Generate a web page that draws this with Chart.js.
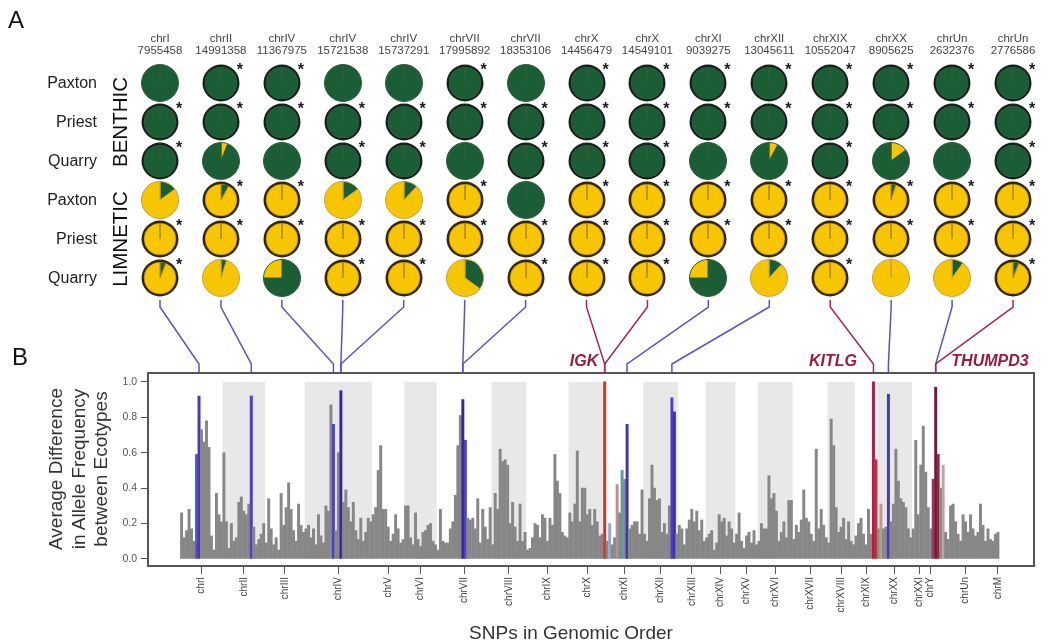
<!DOCTYPE html>
<html><head><meta charset="utf-8">
<script src="https://cdn.jsdelivr.net/npm/chart.js@4.4.1/dist/chart.umd.min.js"></script>
<style>
html,body{margin:0;padding:0;background:#fff;}
#wrap{position:relative;width:1050px;height:644px;overflow:hidden;font-family:"Liberation Sans",Arial,Helvetica,sans-serif;}
#main{position:absolute;left:0;top:0;}
.pie{position:absolute;}
.t{position:absolute;white-space:nowrap;line-height:1;}
</style></head>
<body><div id="wrap"><canvas id="main" width="1050" height="644"></canvas></div>
<script>
// ---------------- Panel B data ----------------
const chromNames = ['chrI','chrII','chrIII','chrIV','chrV','chrVI','chrVII','chrVIII','chrIX','chrX','chrXI','chrXII','chrXIII','chrXIV','chrXV','chrXVI','chrXVII','chrXVIII','chrXIX','chrXX','chrXXI','chrY','chrUn','chrM'];
const chromSnpCounts = [17,17,16,27,13,13,22,14,17,15,15,14,11,12,9,14,14,11,9,14,6,3,25,1];
const shadedChroms = ['chrII','chrIV','chrVI','chrVIII','chrX','chrXII','chrXIV','chrXVI','chrXVIII','chrXX'];
const snpValues = [
  // chrI
  0.26,0.12,0.16,0.28,0.17,0.10,0.59,0.92,0.73,0.66,0.78,0.63,0.13,0.05,0.37,0.25,0.21,
  // chrII
  0.60,0.21,0.06,0.20,0.10,0.12,0.32,0.35,0.27,0.25,0.31,0.92,0.18,0.08,0.11,0.14,0.20,
  // chrIII
  0.09,0.34,0.17,0.08,0.12,0.05,0.37,0.19,0.29,0.43,0.28,0.16,0.10,0.31,0.19,0.15,
  // chrIV
  0.17,0.19,0.12,0.17,0.08,0.25,0.13,0.09,0.30,0.27,0.87,0.76,0.16,0.60,0.95,0.32,0.39,0.29,0.21,0.32,0.16,0.11,0.23,0.10,0.15,0.23,0.21,
  // chrV
  0.25,0.29,0.50,0.64,0.28,0.28,0.18,0.10,0.14,0.25,0.17,0.09,0.11,
  // chrVI
  0.30,0.30,0.12,0.08,0.26,0.11,0.07,0.15,0.16,0.19,0.20,0.10,0.08,
  // chrVII
  0.05,0.28,0.10,0.09,0.09,0.17,0.21,0.36,0.64,0.81,0.90,0.67,0.23,0.22,0.23,0.17,0.34,0.09,0.28,0.18,0.11,0.29,
  // chrVIII
  0.08,0.37,0.28,0.62,0.55,0.56,0.53,0.20,0.32,0.18,0.10,0.31,0.10,0.15,
  // chrIX
  0.05,0.06,0.12,0.20,0.19,0.12,0.25,0.23,0.10,0.23,0.19,0.59,0.44,0.37,0.15,0.13,0.12,
  // chrX
  0.26,0.21,0.31,0.61,0.21,0.40,0.40,0.25,0.28,0.19,0.28,0.21,0.13,0.14,1.00,
  // chrXI
  0.10,0.20,0.08,0.12,0.42,0.26,0.50,0.45,0.76,0.17,0.19,0.21,0.21,0.14,0.39,
  // chrXII
  0.14,0.10,0.34,0.53,0.40,0.33,0.34,0.15,0.20,0.14,0.30,0.91,0.83,0.14,
  // chrXIII
  0.19,0.17,0.08,0.17,0.22,0.28,0.21,0.27,0.16,0.22,0.10,
  // chrXIV
  0.12,0.14,0.16,0.05,0.09,0.25,0.21,0.23,0.13,0.21,0.17,0.09,
  // chrXV
  0.14,0.26,0.10,0.06,0.13,0.15,0.09,0.16,0.08,
  // chrXVI
  0.10,0.20,0.17,0.17,0.47,0.34,0.37,0.27,0.10,0.15,0.21,0.12,0.33,0.33,
  // chrXVII
  0.11,0.19,0.15,0.22,0.39,0.23,0.21,0.14,0.10,0.62,0.17,0.28,0.19,0.12,
  // chrXVIII
  0.09,0.79,0.64,0.29,0.15,0.18,0.23,0.11,0.21,0.10,0.08,
  // chrXIX
  0.13,0.20,0.23,0.14,0.08,0.28,0.14,1.00,0.56,
  // chrXX
  0.17,0.31,0.17,0.18,0.93,0.21,0.31,0.62,0.44,0.34,0.32,0.29,0.17,0.12,
  // chrXXI
  0.17,0.67,0.25,0.53,0.75,0.49,
  // chrY
  0.29,0.17,0.45,
  // chrUn
  0.97,0.59,0.40,0.53,0.15,0.11,0.30,0.31,0.21,0.14,0.10,0.25,0.21,0.15,0.25,0.17,0.13,0.15,0.31,0.19,0.10,0.17,0.11,0.10,0.14,
  // chrM
  0.15
];
const highlightSnps   = [6, 7, 28, 61, 64, 113, 114, 170, 172, 175, 177, 179, 197, 198, 278, 279, 280, 281, 284, 302, 303, 304, 306];
const highlightColors = ['#5a52c4','#4338c0','#4a40cc','#4a40c8','#3328a8','#33289c','#4a40c8','#e0301c','#8eaad6','#c48e88','#5c9c9c','#4036b8','#4a40cc','#3a32a6','#b81c40','#b8304c','#6f9f6f','#c49494','#3c3cc8','#8c3c58','#7a1636','#8a2c48','#c8a0a0'];
const yTicks = [0, 0.2, 0.4, 0.6, 0.8, 1.0];
const geneNames = ['IGK','KITLG','THUMPD3'];

// ---------------- Panel A data ----------------
const pieChroms    = ['chrI','chrII','chrIV','chrIV','chrIV','chrVII','chrVII','chrX','chrX','chrXI','chrXII','chrXIX','chrXX','chrUn','chrUn'];
const piePositions = ['7955458','14991358','11367975','15721538','15737291','17995892','18353106','14456479','14549101','9039275','13045611','10552047','8905625','2632376','2776586'];
const pieSnpIndex  = [7,28,61,64,64,113,113,170,170,179,197,278,284,303,303];
const geneLinkCols = [7,8,11,14];
const lakes = ['Paxton','Priest','Quarry'];
const ecotypes = ['BENTHIC','LIMNETIC'];
// fraction of the benthic (green) allele in each population
const benthicPaxtonGreen  = [1,1,1,1,1,1,1,1,1,1,1,1,1,1,1];
const benthicPriestGreen  = [1,1,1,1,1,1,1,1,1,1,1,1,1,1,1];
const benthicQuarryGreen  = [1,0.94,1,1,1,1,1,1,1,1,0.92,1,0.85,1,1];
const limneticPaxtonGreen = [0.15,0.08,0,0.15,0.12,0,1,0,0,0,0,0,0.05,0,0];
const limneticPriestGreen = [0,0,0,0,0,0,0,0,0,0,0,0,0,0,0];
const limneticQuarryGreen = [0.06,0.05,0.75,0,0,0.35,0,0,0,0.75,0.12,0,0,0.10,0.06];
// significant difference within lake (asterisk)
const paxtonStar = [0,1,1,0,0,1,0,1,1,1,1,1,1,1,1];
const priestStar = [1,1,1,1,1,1,1,1,1,1,1,1,1,1,1];
const quarryStar = [1,0,0,1,1,0,1,1,1,0,0,1,0,0,1];

// ---------------- derived ----------------
const chromStarts = [];
{ let acc = 0; chromSnpCounts.forEach(c => { chromStarts.push(acc); acc += c; }); }
const chromCenters = chromStarts.map((s, k) => s + (chromSnpCounts[k] - 1) / 2);
const barColors = snpValues.map((v, i) => {
  const h = highlightSnps.indexOf(i);
  return h >= 0 ? highlightColors[h] : '#878787';
});

const GREEN = '#1b5e35', YELLOW = '#f7c600';
const colX = c => 160 + c * 60.93;
const rowY = r => 83 + r * 39;

const wrap = document.getElementById('wrap');
function addText(txt, x, y, css, anchor) {
  const d = document.createElement('div');
  d.className = 't';
  d.textContent = txt;
  d.style.left = x + 'px';
  d.style.top = y + 'px';
  d.style.transform = anchor || 'translate(-50%,-50%)';
  Object.assign(d.style, css || {});
  wrap.appendChild(d);
  return d;
}

Chart.defaults.font.family = '"Liberation Sans", Arial, Helvetica, sans-serif';

const panelB = {
  id: 'panelB',
  beforeDatasetsDraw(chart) {
    const {ctx, scales: {x, y}} = chart;
    ctx.save();
    ctx.fillStyle = '#e8e8e8';
    const yTop = y.getPixelForValue(1), yBot = y.getPixelForValue(0);
    chromNames.forEach((name, k) => {
      if (!shadedChroms.includes(name)) return;
      const x0 = x.getPixelForValue(chromStarts[k] - 0.5);
      const x1 = x.getPixelForValue(chromStarts[k] + chromSnpCounts[k] - 0.5);
      ctx.fillRect(x0, yTop, x1 - x0, yBot - yTop);
    });
    ctx.restore();
  },
  afterDraw(chart) {
    const {ctx, chartArea: a, scales: {x}} = chart;
    ctx.save();
    ctx.strokeStyle = '#555';
    ctx.lineWidth = 2;
    ctx.strokeRect(a.left, a.top, a.right - a.left, a.bottom - a.top);
    // connecting lines from pies to SNPs
    ctx.lineWidth = 1.5;
    pieSnpIndex.forEach((si, c) => {
      const px = colX(c);
      const bx = x.getPixelForValue(si);
      ctx.strokeStyle = geneLinkCols.includes(c) ? '#a3284a' : '#5b52c2';
      ctx.beginPath();
      ctx.moveTo(px, 300);
      ctx.lineTo(px, 307);
      ctx.lineTo(bx, 364);
      ctx.lineTo(bx, a.top);
      ctx.stroke();
    });
    ctx.restore();
  }
};

new Chart(document.getElementById('main'), {
  type: 'bar',
  data: {
    datasets: [{
      data: snpValues.map((v, i) => ({x: i, y: v})),
      backgroundColor: barColors,
      borderWidth: 0,
      barThickness: 2.3
    }]
  },
  options: {
    responsive: false,
    animation: false,
    devicePixelRatio: 1,
    events: [],
    layout: {padding: {left: 0, top: 373, right: 16, bottom: 0}},
    plugins: {legend: {display: false}, tooltip: {enabled: false}},
    scales: {
      x: {
        type: 'linear',
        offset: false,
        min: -13.5, max: 342.5,
        afterBuildTicks: s => { s.ticks = chromCenters.map(v => ({value: v})); },
        afterFit: s => { s.height = 78; },
        ticks: {
          autoSkip: false, maxRotation: 90, minRotation: 90,
          callback: (v, i) => chromNames[i],
          font: {size: 10}, color: '#444', padding: 3
        },
        grid: {offset: false, drawOnChartArea: false, drawTicks: true, tickLength: 8, color: '#555', lineWidth: 1},
        border: {display: false}
      },
      y: {
        min: -0.04, max: 1.05,
        afterBuildTicks: s => { s.ticks = yTicks.map(v => ({value: v})); },
        afterFit: s => { s.width = 148; },
        ticks: {callback: v => Number(v).toFixed(1), font: {size: 10.5}, color: '#555', padding: 4},
        grid: {drawOnChartArea: false, drawTicks: true, tickLength: 7, color: '#555', lineWidth: 1},
        border: {display: false}
      }
    }
  },
  plugins: [panelB]
});

// ---------------- Panel A pies ----------------
const pieRows = [
  {eco: 'benthic',  green: benthicPaxtonGreen,  star: paxtonStar},
  {eco: 'benthic',  green: benthicPriestGreen,  star: priestStar},
  {eco: 'benthic',  green: benthicQuarryGreen,  star: quarryStar},
  {eco: 'limnetic', green: limneticPaxtonGreen, star: paxtonStar},
  {eco: 'limnetic', green: limneticPriestGreen, star: priestStar},
  {eco: 'limnetic', green: limneticQuarryGreen, star: quarryStar}
];
pieRows.forEach((row, r) => {
  row.green.forEach((g, c) => {
    const cx = colX(c), cy = rowY(r);
    const cv = document.createElement('canvas');
    cv.width = 44; cv.height = 44; cv.className = 'pie';
    cv.style.left = (cx - 22) + 'px'; cv.style.top = (cy - 22) + 'px';
    wrap.appendChild(cv);
    const benthic = row.eco === 'benthic';
    const slices = benthic ? [1 - g, g] : [g, 1 - g];
    const colors = benthic ? [YELLOW, GREEN] : [GREEN, YELLOW];
    const datasets = [];
    if (row.star[c]) {
      datasets.push({data: [1], backgroundColor: [benthic ? '#14241a' : '#34270e'], borderWidth: 0, weight: 0.15, radius: 18.5});
    }
    datasets.push({data: slices, backgroundColor: colors,
      borderColor: g >= 0.5 ? '#2e5c3d' : (row.star[c] ? '#a8841f' : '#c4a044'),
      borderWidth: 1, weight: 1, radius: 18.5});
    new Chart(cv, {
      type: 'pie',
      data: {labels: ['allele 1', 'allele 2'], datasets},
      options: {responsive: false, animation: false, devicePixelRatio: 1, events: [], radius: 18.5,
        layout: {padding: 0},
        plugins: {legend: {display: false}, tooltip: {enabled: false}}}
    });
    if (row.star[c]) {
      addText('*', cx + 19, cy - 13, {fontSize: '16px', fontWeight: 'bold', color: '#1a1a26'});
    }
  });
});

// ---------------- Text ----------------
addText('A', 16, 20, {fontSize: '24px', color: '#111'});
addText('B', 20, 357, {fontSize: '24px', color: '#111'});
pieChroms.forEach((ch, c) => {
  addText(ch, colX(c), 39, {fontSize: '11.5px', color: '#444'});
  addText(piePositions[c], colX(c), 51, {fontSize: '11.5px', color: '#444'});
});
[0,1,2,3,4,5].forEach(r => {
  addText(lakes[r % 3], 97, rowY(r), {fontSize: '16px', color: '#222'}, 'translate(-100%,-50%)');
});
addText(ecotypes[0], 120, rowY(1), {fontSize: '20.5px', color: '#111'}, 'translate(-50%,-50%) rotate(-90deg)');
addText(ecotypes[1], 120, rowY(4), {fontSize: '20.5px', color: '#111'}, 'translate(-50%,-50%) rotate(-90deg)');
addText(geneNames[0], 584, 361, {fontSize: '16px', fontWeight: 'bold', fontStyle: 'italic', color: '#9c1a3c'});
addText(geneNames[1], 833, 361, {fontSize: '16px', fontWeight: 'bold', fontStyle: 'italic', color: '#9c1a3c'});
addText(geneNames[2], 990, 361, {fontSize: '16px', fontWeight: 'bold', fontStyle: 'italic', color: '#9c1a3c'});
addText('Average Difference', 55, 469, {fontSize: '19px', color: '#333'}, 'translate(-50%,-50%) rotate(-90deg)');
addText('in Allele Frequency', 78, 469, {fontSize: '19px', color: '#333'}, 'translate(-50%,-50%) rotate(-90deg)');
addText('between Ecotypes', 100, 469, {fontSize: '19px', color: '#333'}, 'translate(-50%,-50%) rotate(-90deg)');
addText('SNPs in Genomic Order', 571, 632, {fontSize: '19px', color: '#333'});
</script></body></html>
